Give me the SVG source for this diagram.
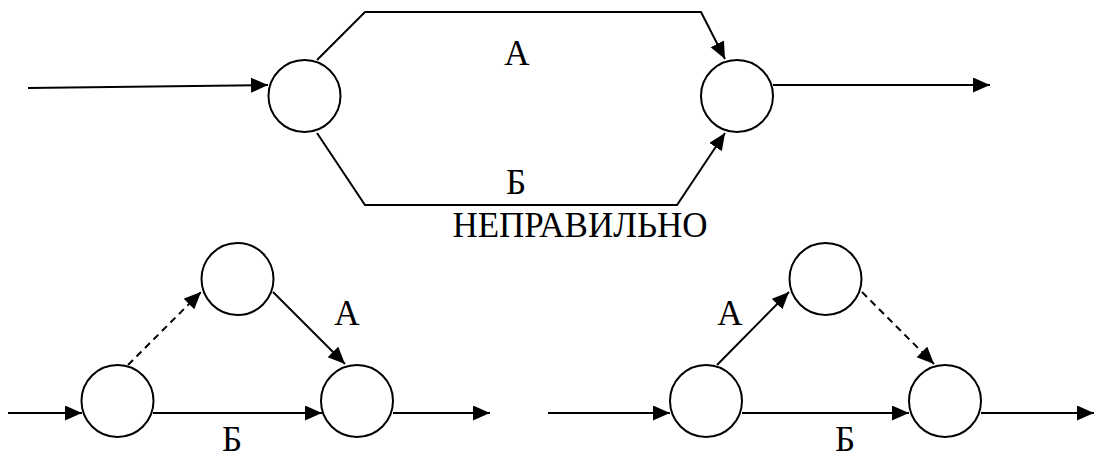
<svg xmlns="http://www.w3.org/2000/svg" width="1094" height="457" viewBox="0 0 1094 457">
<style>
.n{fill:#fff;stroke:#000;stroke-width:2}
.e{fill:none;stroke:#000;stroke-width:2}
.d{stroke-dasharray:7,5}
.t{font-family:"Liberation Serif","Times New Roman",serif;font-size:35px;fill:#000;text-anchor:middle}
</style>
<defs>
<marker id="ah" markerUnits="userSpaceOnUse" markerWidth="18" markerHeight="16" refX="17" refY="7.5" orient="auto">
<path d="M0,0 L17,7.5 L0,15 z" fill="#000"/>
</marker>
</defs>
<g id="connectors">
<line class="e" x1="28" y1="88" x2="268" y2="85" marker-end="url(#ah)"/>
<polyline class="e" points="317,60 365,12 701,12 725,59" marker-end="url(#ah)"/>
<polyline class="e" points="317,133 365,205 677,205 725,133" marker-end="url(#ah)"/>
<line class="e" x1="773" y1="85" x2="990" y2="85" marker-end="url(#ah)"/>
<line class="e" x1="8" y1="413" x2="82" y2="413" marker-end="url(#ah)"/>
<line class="e" x1="153" y1="413" x2="322" y2="413" marker-end="url(#ah)"/>
<line class="e" x1="393" y1="413" x2="490" y2="413" marker-end="url(#ah)"/>
<line class="e d" x1="128" y1="365" x2="201" y2="292" marker-end="url(#ah)"/>
<line class="e" x1="273" y1="292" x2="345" y2="364" marker-end="url(#ah)"/>
<line class="e" x1="548" y1="413" x2="670" y2="413" marker-end="url(#ah)"/>
<line class="e" x1="742" y1="413" x2="909" y2="413" marker-end="url(#ah)"/>
<line class="e" x1="981" y1="413" x2="1094" y2="413" marker-end="url(#ah)"/>
<line class="e" x1="717" y1="365" x2="789" y2="292" marker-end="url(#ah)"/>
<line class="e d" x1="862" y1="292" x2="934" y2="364" marker-end="url(#ah)"/>
</g>
<g id="node1"><circle class="n" cx="304.5" cy="96" r="36"/></g>
<g id="node2"><circle class="n" cx="737" cy="96" r="36"/></g>
<g id="node3"><circle class="n" cx="117.5" cy="401" r="36"/></g>
<g id="node4"><circle class="n" cx="237.5" cy="279" r="36"/></g>
<g id="node5"><circle class="n" cx="357" cy="401" r="36"/></g>
<g id="node6"><circle class="n" cx="706" cy="401" r="36"/></g>
<g id="node7"><circle class="n" cx="825.5" cy="279" r="36"/></g>
<g id="node8"><circle class="n" cx="945" cy="401" r="36"/></g>
<g id="labels">
<text class="t" x="517" y="65">А</text>
<text class="t" x="516" y="194">Б</text>
<text class="t" x="580" y="237">НЕПРАВИЛЬНО</text>
<text class="t" x="347" y="325">А</text>
<text class="t" x="232" y="451">Б</text>
<text class="t" x="730" y="325">А</text>
<text class="t" x="845" y="451">Б</text>
</g>
</svg>
